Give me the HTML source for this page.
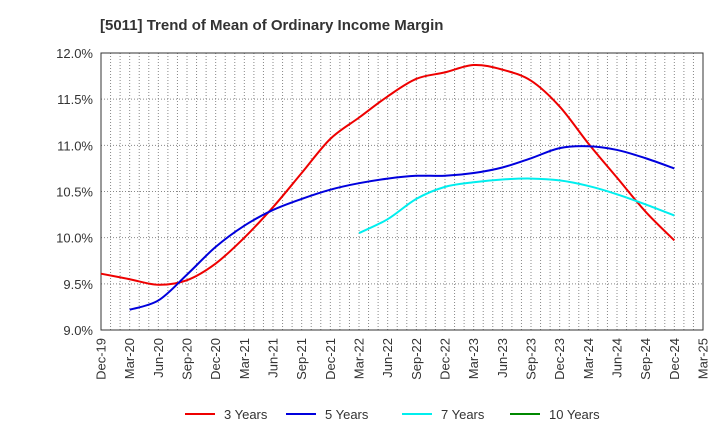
<!DOCTYPE html>
<html><head><meta charset="utf-8"><style>body{margin:0;background:#fff}svg{font-family:"Liberation Sans",Arial,sans-serif}</style></head>
<body>
<svg id="c" width="720" height="440" xmlns="http://www.w3.org/2000/svg">
<text x="100" y="30" font-size="15" font-weight="bold" fill="#333">[5011]  Trend of Mean of Ordinary Income Margin</text>
</svg>
<script>
const quarterLabels=["Dec-19","Mar-20","Jun-20","Sep-20","Dec-20","Mar-21","Jun-21","Sep-21","Dec-21","Mar-22","Jun-22","Sep-22","Dec-22","Mar-23","Jun-23","Sep-23","Dec-23","Mar-24","Jun-24","Sep-24","Dec-24","Mar-25"];
const yTicks=[9.0,9.5,10.0,10.5,11.0,11.5,12.0];
const s3=[9.61,9.55,9.49,9.54,9.72,10.0,10.33,10.7,11.07,11.3,11.53,11.72,11.79,11.87,11.82,11.7,11.42,11.02,10.65,10.28,9.97];
const s5=[null,9.22,9.32,9.6,9.9,10.13,10.3,10.42,10.52,10.59,10.64,10.67,10.67,10.7,10.76,10.86,10.97,10.99,10.95,10.86,10.75];
const s7=[null,null,null,null,null,null,null,null,null,10.05,10.2,10.42,10.55,10.6,10.63,10.64,10.62,10.56,10.47,10.36,10.24];
const ns="http://www.w3.org/2000/svg",svg=document.getElementById('c');
const L=101,R=703,T=53,B=330;
const xq=i=>L+i*3*(R-L)/63, xm=m=>L+m*(R-L)/63, y=v=>B-(v-9)*(B-T)/3;
function mk(t,a,p){const e=document.createElementNS(ns,t);for(const k in a)e.setAttribute(k,a[k]);(p||svg).appendChild(e);return e;}
for(let m=1;m<63;m++){const g=mk('line',{x1:xm(m),x2:xm(m),y1:T,y2:B,stroke:'#888','stroke-dasharray':'1,2','stroke-width':1});

}
yTicks.forEach(v=>{if(v>9&&v<12){const g=mk('line',{x1:L,x2:R,y1:y(v),y2:y(v),stroke:'#888','stroke-dasharray':'1,2'});

}
const t=mk('text',{x:L-8,y:y(v)+5,'text-anchor':'end','font-size':13,fill:'#333'});t.textContent=v.toFixed(1)+'%';

});
quarterLabels.forEach((l,i)=>{const t=mk('text',{transform:`translate(${xq(i)+4.5},338) rotate(-90)`,'text-anchor':'end','font-size':13,fill:'#333'});t.textContent=l;

});
const fr=mk('rect',{x:L,y:T,width:R-L,height:B-T,fill:'none',stroke:'#333'});


function line(s,c,n){const p=[];s.forEach((v,i)=>{if(v!=null)p.push([xq(i),y(v)]);});
let d=`M${p[0][0]},${p[0][1]}`;for(let i=0;i<p.length-1;i++){const a=p[i-1]||p[i],b=p[i],c2=p[i+1],e=p[i+2]||c2;
d+=` C${b[0]+(c2[0]-a[0])/6},${b[1]+(c2[1]-a[1])/6} ${c2[0]-(e[0]-b[0])/6},${c2[1]-(e[1]-b[1])/6} ${c2[0]},${c2[1]}`;}
const el=mk('path',{d,fill:'none',stroke:c,'stroke-width':2});

}
line(s3,'#e00','series-3-years');line(s5,'#00d','series-5-years');line(s7,'#0ee','series-7-years');
[['3 Years','#e00',185],['5 Years','#00d',286],['7 Years','#0ee',402],['10 Years','#080',510]].forEach(([n,c,x])=>{
const g=mk('g',{});

mk('line',{x1:x,x2:x+30,y1:414,y2:414,stroke:c,'stroke-width':2},g);
const t=mk('text',{x:x+39,y:419,'font-size':13,fill:'#333'},g);t.textContent=n;});
</script>
</body></html>
